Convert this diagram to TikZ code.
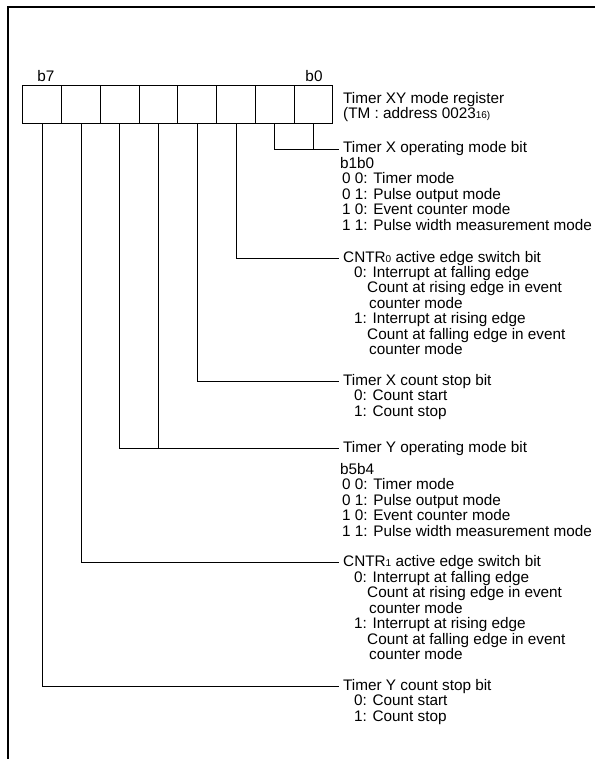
\documentclass[tikz,border=0pt]{standalone}
\usepackage{fontspec}
\setmainfont{Liberation Sans}
\newcommand{\lowsub}[1]{{\fontsize{10}{10}\selectfont #1}}
\tikzset{
  regcell/.style={draw, line width=1pt, minimum width=38.75pt, minimum height=37.5pt, inner sep=0pt},
  wire/.style={line width=1pt},
  head/.style={anchor=base west, inner xsep=4pt, inner ysep=0pt},
  desc/.style={anchor=north west, align=left, inner sep=0pt},
}

\begin{document}
\begin{tikzpicture}[x=1pt, y=-1pt, font=\fontsize{15.3}{15.5}\selectfont]
  % frame, register cells and the bit fields below
  \useasboundingbox (0,0) rectangle (595,759);
  \draw[line width=2pt] (8,759) -- (8,7) -- (595,7);
  \foreach \i in {0,...,7}{
    \node[regcell] (c\i) at ({313.6-38.75*\i},104.5) {};
  }
  \node[anchor=base] (lb7) at (46,82) {b7};
  \node[anchor=base] (lb0) at (314,82) {b0};
  \node[desc] (reg) at (343,92) {Timer XY mode register\\(TM : address 0023\lowsub{16)}};

  \node[head] (opx) at (339,153) {Timer X operating mode bit};
  \node[head] (cnt0) at (339,262) {CNTR\lowsub{0} active edge switch bit};
  \node[head] (stpx) at (339,385.5) {Timer X count stop bit};
  \node[head] (opy) at (339,452) {Timer Y operating mode bit};
  \node[head] (cnt1) at (339,566) {CNTR\lowsub{1} active edge switch bit};
  \node[head] (stpy) at (339,690) {Timer Y count stop bit};

  \node[desc] (opxd) at (340,156.8) {b1b0\\\hspace*{2pt}0 0: Timer mode\\\hspace*{2pt}0 1: Pulse output mode\\
    \hspace*{2pt}1 0: Event counter mode\\\hspace*{2pt}1 1: Pulse width measurement mode};
  \node[desc] (cnt0d) at (340,265.8) {\hspace*{14pt}0: Interrupt at falling edge\\
    \hspace*{27pt}Count at rising edge in event\\\hspace*{29pt}counter mode\\
    \hspace*{14pt}1: Interrupt at rising edge\\
    \hspace*{27pt}Count at falling edge in event\\\hspace*{29pt}counter mode};
  \node[desc] (stpxd) at (340,389.8) {\hspace*{14pt}0: Count start\\\hspace*{14pt}1: Count stop};
  \node[desc] (opyd) at (340,462.8) {b5b4\\\hspace*{2pt}0 0: Timer mode\\\hspace*{2pt}0 1: Pulse output mode\\
    \hspace*{2pt}1 0: Event counter mode\\\hspace*{2pt}1 1: Pulse width measurement mode};
  \node[desc] (cnt1d) at (340,570.8) {\hspace*{14pt}0: Interrupt at falling edge\\
    \hspace*{27pt}Count at rising edge in event\\\hspace*{29pt}counter mode\\
    \hspace*{14pt}1: Interrupt at rising edge\\
    \hspace*{27pt}Count at falling edge in event\\\hspace*{29pt}counter mode};
  \node[desc] (stpyd) at (340,694.8) {\hspace*{14pt}0: Count start\\\hspace*{14pt}1: Count stop};

  \draw[wire] (c1.south) |- (opx.west);
  \draw[wire] (c0.south) -- (c0.south |- opx.west);
  \draw[wire] (c2.south) |- (cnt0.west);
  \draw[wire] (c3.south) |- (stpx.west);
  \draw[wire] (c5.south) |- (opy.west);
  \draw[wire] (c4.south) -- (c4.south |- opy.west);
  \draw[wire] (c6.south) |- (cnt1.west);
  \draw[wire] (c7.south) |- (stpy.west);
\end{tikzpicture}
\end{document}
